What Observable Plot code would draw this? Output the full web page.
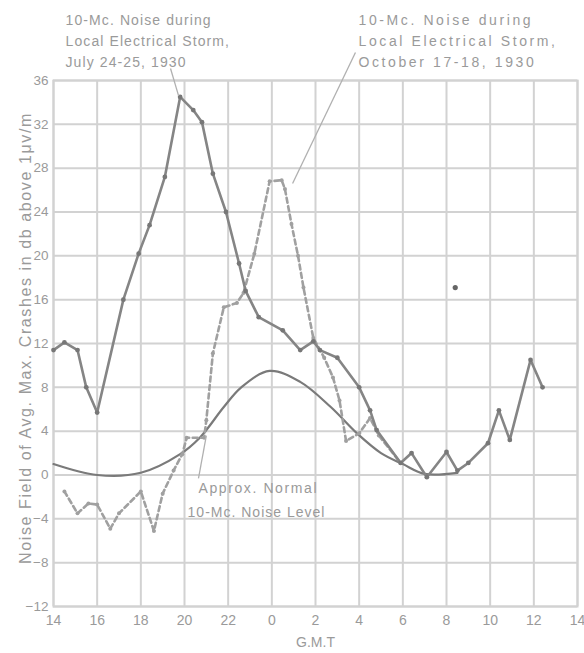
<!DOCTYPE html>
<html>
<head>
<meta charset="utf-8">
<script src="https://cdn.jsdelivr.net/npm/d3@7"></script>
<script src="https://cdn.jsdelivr.net/npm/@observablehq/plot@0.6"></script>
<style>
  html, body { margin: 0; padding: 0; background: #fff; }
  #chart { width: 584px; height: 653px; }
</style>
</head>
<body>
<div id="chart"></div>
<script>
// GMT hours, continuous from 14 (day 1) to 38 (= 14 next day)
const xTicks = [14, 16, 18, 20, 22, 24, 26, 28, 30, 32, 34, 36, 38];
const yTicks = [-12, -8, -4, 0, 4, 8, 12, 16, 20, 24, 28, 32, 36];

// 10-Mc noise during local electrical storm, July 24-25, 1930 (solid)
const julyHours  = [14, 14.5, 15.1, 15.5, 16, 17.2, 17.9, 18.4, 19.1, 19.8, 20.4, 20.8, 21.3, 21.9, 22.5, 22.8, 23.4, 24.5, 25.3, 25.9, 26.2, 27, 28, 28.5, 28.8, 29.9, 30.4, 31.1, 32, 32.5, 33, 33.9, 34.4, 34.9, 35.85, 36.4];
const julyValues = [11.4, 12.1, 11.4, 8, 5.7, 16, 20.2, 22.8, 27.2, 34.5, 33.3, 32.2, 27.5, 24, 19.3, 16.8, 14.4, 13.2, 11.4, 12.2, 11.4, 10.7, 8, 5.9, 4.1, 1.1, 2, -0.2, 2.1, 0.4, 1.1, 2.9, 5.9, 3.2, 10.5, 8];

// 10-Mc noise during local electrical storm, October 17-18, 1930 (dashed)
const octHours  = [14.5, 15.1, 15.6, 16, 16.6, 17, 18, 18.6, 19, 19.5, 19.9, 20.1, 20.9, 21.0, 21.3, 21.8, 22.4, 22.7, 23.2, 23.9, 24.45, 24.6, 24.9, 25.2, 25.45, 25.9, 26.4, 26.8, 27.1, 27.4, 28, 28.5, 28.9, 29.9];
const octValues = [-1.5, -3.5, -2.6, -2.7, -4.9, -3.5, -1.5, -5.1, -1.7, 0.4, 1.9, 3.4, 3.4, 5, 11.1, 15.3, 15.7, 16.6, 20.2, 26.8, 26.9, 26.1, 22.9, 20, 17.1, 12.5, 10.7, 8.9, 6.8, 3.1, 3.8, 5.2, 3.6, 1.1];

// Approx. normal 10-Mc noise level (smooth)
const normalHours  = [14, 16, 18, 19.8, 20.7, 21.8, 22.6, 23.9, 25.3, 26.7, 27.9, 29, 30, 31, 32.5];
const normalValues = [1, 0, 0.2, 1.9, 3.4, 6.2, 8, 9.5, 8.5, 6.2, 3.8, 2, 1, 0.1, 0.2];

// isolated plotted point
const strayHours = [32.4];
const strayValues = [17.1];

// annotation texts and their anchor positions (data space)
const labelTexts = ["10-Mc. Noise during\nLocal Electrical Storm,\nJuly 24-25, 1930",
                    "10-Mc. Noise during\nLocal Electrical Storm,\nOctober 17-18, 1930",
                    "Approx. Normal",
                    "10-Mc. Noise Level"];
const labelHours  = [14.55, 27.97, 20.64, 20.14];
const labelValues = [42.4, 42.4, -0.3, -2.5];
const labelSpacing = [1.1, 2.6, 1.6, 1.0];

// leader lines from labels to curves
const leaderX1 = [19.36, 27.83, 20.64];
const leaderY1 = [37.1, 38.55, -0.3];
const leaderX2 = [19.73, 24.95, 21.0];
const leaderY2 = [34.6, 26.6, 3.6];

const july = julyHours.map((h, i) => ({h, v: julyValues[i]}));
const oct = octHours.map((h, i) => ({h, v: octValues[i]}));
const normal = normalHours.map((h, i) => ({h, v: normalValues[i]}));
const stray = strayHours.map((h, i) => ({h, v: strayValues[i]}));
const labels = labelTexts.map((t, i) => ({t, h: labelHours[i], v: labelValues[i]}));
const leaders = leaderX1.map((x1, i) => ({x1, y1: leaderY1[i], x2: leaderX2[i], y2: leaderY2[i]}));

const grid = "#d2d2d2";
const textCol = "#9a9a9a";

const chart = Plot.plot({
  width: 584,
  height: 653,
  marginLeft: 53,
  marginRight: 7,
  marginTop: 80,
  marginBottom: 47,
  style: {fontFamily: "'Liberation Sans', Arial, sans-serif", background: "#fff", color: textCol, overflow: "visible"},
  x: {domain: [14, 38]},
  y: {domain: [-12, 36]},
  marks: [
    Plot.gridX(xTicks, {stroke: grid, strokeOpacity: 1, strokeWidth: 2}),
    Plot.gridY(yTicks, {stroke: grid, strokeOpacity: 1, strokeWidth: 2}),
    Plot.frame({stroke: grid, strokeWidth: 2}),
    Plot.axisX({ticks: xTicks, tickSize: 0, tickPadding: 9, fontSize: 14, label: null, tickFormat: d => String(d % 24), fill: textCol}),
    Plot.axisY({ticks: yTicks, tickSize: 0, tickPadding: 5, fontSize: 13.5, label: null, fill: textCol}),
    Plot.text(["Noise Field of Avg. Max. Crashes in db above 1μv/m"], {x: 12.75, y: 12.5, rotate: -90, fontSize: 16, fill: textCol, text: d => d}),
    Plot.text(["G.M.T"], {x: 26, y: -15.3, fontSize: 14, fill: textCol, text: d => d}),
    // curves
    Plot.line(normal, {x: "h", y: "v", curve: "catmull-rom", stroke: "#7a7a7a", strokeWidth: 2.2}),
    Plot.line(oct, {x: "h", y: "v", stroke: "#a0a0a0", strokeWidth: 2.6, strokeDasharray: "5,3.5"}),
    Plot.dot(oct, {x: "h", y: "v", r: 2, fill: "#a0a0a0"}),
    Plot.line(july, {x: "h", y: "v", stroke: "#858585", strokeWidth: 2.6}),
    Plot.dot(july, {x: "h", y: "v", r: 2.4, fill: "#777"}),
    Plot.dot(stray, {x: "h", y: "v", r: 2.6, fill: "#666"}),
    // annotations
    Plot.link(leaders, {x1: "x1", y1: "y1", x2: "x2", y2: "y2", stroke: "#b0b0b0", strokeWidth: 1.3}),
    Plot.text(labels, {x: "h", y: "v", text: "t", textAnchor: "start", lineAnchor: "top", lineHeight: 1.5, fontSize: 14, fill: textCol})
  ]
});

document.getElementById("chart").appendChild(chart);

// hand-lettered look: wider spacing on annotation texts
const svg = d3.select(chart);
svg.selectAll("text").filter(function() { return this.textContent.startsWith("Noise Field"); })
  .attr("letter-spacing", "1.6px");
svg.selectAll("text").each(function() {
  const i = labelTexts.indexOf(this.textContent) >= 0 ? labelTexts.indexOf(this.textContent)
          : labelTexts.findIndex(t => t.replace(/\n/g, "") === this.textContent);
  if (i >= 0) d3.select(this).attr("letter-spacing", labelSpacing[i] + "px");
});
</script>
</body>
</html>
